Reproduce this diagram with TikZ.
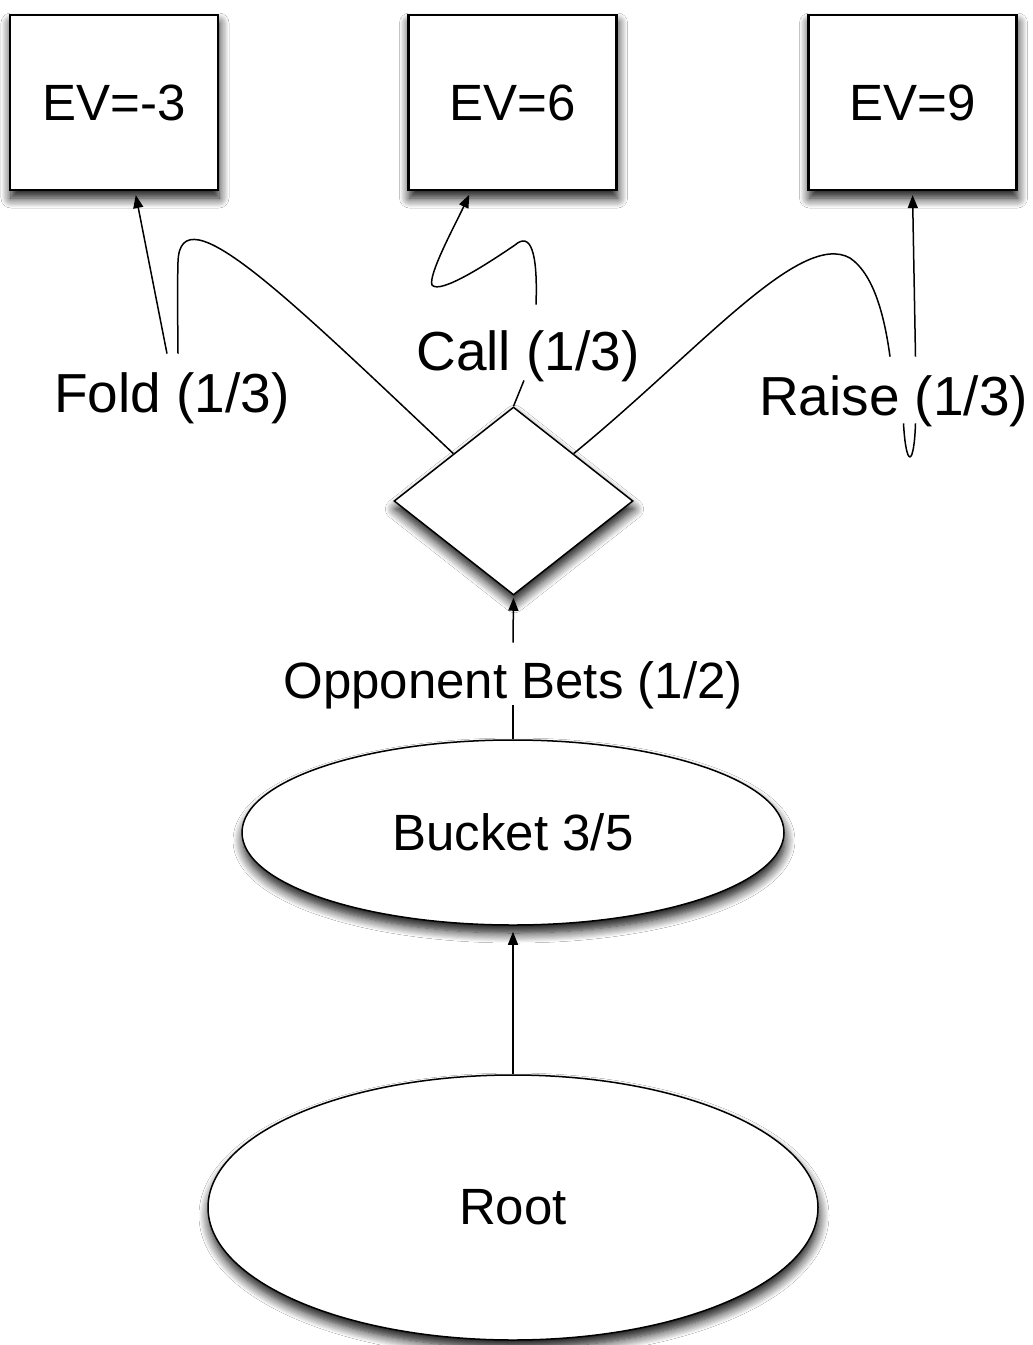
\documentclass[tikz,border=0pt]{standalone}
\usepackage{fontspec}
\setmainfont{Liberation Sans}
\usetikzlibrary{shapes.geometric,shadows.blur,arrows.meta}
\begin{document}
\begin{tikzpicture}[x=0.5pt,y=-0.5pt,
  shad/.style={blur shadow={shadow xshift=0.5pt,shadow yshift=-4pt,shadow blur radius=5pt,shadow blur steps=10,shadow opacity=95}},
  evbox/.style={draw,line width=1.1pt,fill=white,minimum width=104pt,minimum height=87.5pt,inner sep=0pt,font=\fontsize{25.5}{30}\selectfont,shad},
  chance/.style={diamond,draw,line width=0.75pt,fill=white,minimum width=119.5pt,minimum height=94pt,inner sep=0pt,shad},
  oval/.style={ellipse,draw,line width=0.75pt,fill=white,inner sep=0pt,font=\fontsize{25.5}{30}\selectfont,shad},
  lbl/.style={inner sep=0pt,anchor=base,font=\fontsize{27.5}{33}\selectfont},
  conn/.style={line width=0.75pt},
  arr/.style={conn,-{Triangle[length=6.5pt,width=5pt]},shorten >=2pt}]
\useasboundingbox[fill=white] (0,0) rectangle (1033,1345);
% nodes
\node[evbox] (b1) at (114,102.5) {\raisebox{-2pt}{EV=-3}};
\node[evbox] (b2) at (512.5,102.5) {\raisebox{-2pt}{EV=6}};
\node[evbox] (b3) at (912.5,102.5) {\raisebox{-2pt}{EV=9}};
\node[chance] (dia) at (513.5,501) {};
\node[oval,minimum width=271pt,minimum height=92.5pt] (buck) at (513,832.5) {\raisebox{-1pt}{Bucket 3/5}};
\node[oval,minimum width=305pt,minimum height=132.5pt] (root) at (513,1207.5) {\raisebox{-2pt}{Root}};
\node[lbl,text height=29pt,text depth=6pt] (fold) at (172,412) {Fold (1/3)};
\node[lbl,text height=32.5pt,text depth=5pt] (call) at (528,370) {Call (1/3)};
\node[lbl,text height=29pt,text depth=4pt] (raise) at (893.5,415) {Raise (1/3)};
\node[lbl,font=\fontsize{25.5}{30}\selectfont,text height=27.5pt,text depth=3.5pt] (opp) at (513,698) {Opponent Bets (1/2)};
% connectors
\draw[conn] (dia.north west) .. controls (290,300) and (180,190) .. (178,262) .. controls (177,300) and (178,330) .. ([xshift=3pt]fold.north);
\draw[arr] ([xshift=-2.5pt]fold.north) -- ([xshift=10.5pt]b1.south);
\draw[conn] (dia.north) -- ([xshift=-2pt]call.south);
\draw[arr] ([xshift=4pt]call.north) .. controls (538,250) and (530,232) .. (515,245) .. controls (490,262) and (440,295) .. (432,285) .. controls (428,275) and (455,225) .. ([xshift=-20.75pt]b2.south);
\draw[conn] (dia.north east) .. controls (700,350) and (800,230) .. (850,258) .. controls (875,275) and (885,320) .. ([xshift=-1.75pt]raise.north);
\draw[conn] ([xshift=5pt]raise.south) .. controls (906,468) and (914,468) .. ([xshift=11pt]raise.south);
\draw[arr] ([xshift=11pt]raise.north) -- (b3.south);
\draw[conn] (buck.north) -- (opp.south);
\draw[arr,shorten >=1pt] (opp.north) -- (dia.south);
\draw[arr,shorten >=3pt] (root.north) -- (buck.south);
\end{tikzpicture}
\end{document}
